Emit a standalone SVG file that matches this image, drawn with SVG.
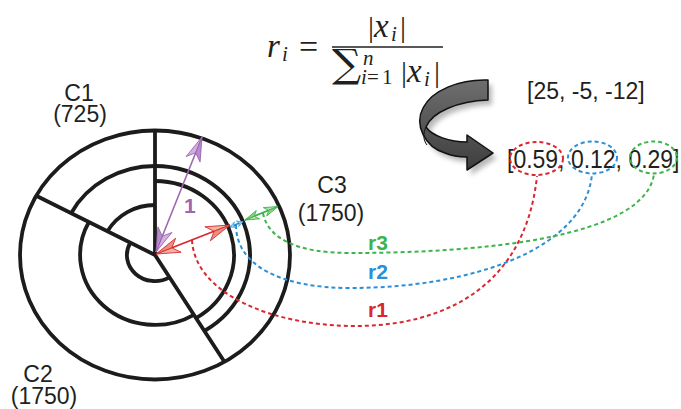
<svg xmlns="http://www.w3.org/2000/svg" width="681" height="409" viewBox="0 0 681 409">
<style>
.ring{fill:none;stroke:#1c1c1c;stroke-width:3.8}
.lbl{font-family:"Liberation Sans",Arial,sans-serif;font-size:23px;fill:#231f20}
.math{font-family:"Liberation Serif","Times New Roman",serif;fill:#231f20}
.it{font-style:italic}
.dash{fill:none;stroke-width:2;stroke-dasharray:4 3}
.rl{font-family:"Liberation Sans",Arial,sans-serif;font-weight:bold;font-size:21px}
.red{stroke:#d7282f}
.blue{stroke:#2a8fd6}
.green{stroke:#3cb44b}
</style>
<defs>
<linearGradient id="gArrow" x1="0" y1="0" x2="0" y2="1">
<stop offset="0" stop-color="#6e6e6e"/>
<stop offset="1" stop-color="#3e3e3e"/>
</linearGradient>
<filter id="shadow" x="-20%" y="-20%" width="150%" height="150%">
<feGaussianBlur stdDeviation="2.5"/>
</filter>
<marker id="mP" viewBox="-25 -9 27 18" refX="0" refY="0" markerWidth="27" markerHeight="18" markerUnits="userSpaceOnUse" orient="auto-start-reverse">
<path d="M0,0 L-24,-7.5 L-17,0 Z" fill="#d2b0e0" stroke="#9b5fb0" stroke-width="0.8"/>
<path d="M0,0 L-17,0 L-24,7.5 Z" fill="#b98ccc" stroke="#9b5fb0" stroke-width="0.8"/>
</marker>
<marker id="mR" viewBox="-25 -9 27 18" refX="0" refY="0" markerWidth="27" markerHeight="18" markerUnits="userSpaceOnUse" orient="auto-start-reverse">
<path d="M0,0 L-24,-7.5 L-17,0 Z" fill="#f3b2a2" stroke="#d7282f" stroke-width="0.8"/>
<path d="M0,0 L-17,0 L-24,7.5 Z" fill="#eb8f7c" stroke="#d7282f" stroke-width="0.8"/>
</marker>
<marker id="mG" viewBox="-16 -6 18 12" refX="0" refY="0" markerWidth="18" markerHeight="12" markerUnits="userSpaceOnUse" orient="auto-start-reverse">
<path d="M0,0 L-14,-4.5 L-10,0 Z" fill="#b5e2ad" stroke="#3cb44b" stroke-width="0.8"/>
<path d="M0,0 L-10,0 L-14,4.5 Z" fill="#8fd286" stroke="#3cb44b" stroke-width="0.8"/>
</marker>
<marker id="mB" viewBox="-8 -4 10 8" refX="0" refY="0" markerWidth="10" markerHeight="8" markerUnits="userSpaceOnUse" orient="auto-start-reverse">
<path d="M0,0 L-6,-3 L-4,0 L-6,3 Z" fill="#a6d0f0" stroke="#2a8fd6" stroke-width="0.6"/>
</marker>
</defs>

<g id="formula" class="math">
<text x="267" y="57" font-size="33" class="it">r</text>
<text x="282" y="61" font-size="21" class="it">i</text>
<text x="299" y="57.5" font-size="34">=</text>
<line x1="332" y1="47" x2="443" y2="47" stroke="#231f20" stroke-width="1.3"/>
<text x="368" y="37" font-size="30">|</text>
<text x="374" y="37" font-size="33" class="it">x</text>
<text x="391" y="41" font-size="21" class="it">i</text>
<text x="400" y="37" font-size="30">|</text>
<text transform="translate(332,77) scale(1.05,1)" x="0" y="0" font-size="39" font-family="DejaVu Serif, serif">∑</text>
<text x="363" y="65" font-size="21" class="it">n</text>
<text x="361" y="84" font-size="21" class="it">i</text>
<text x="367" y="84" font-size="21">=</text>
<text x="382" y="84" font-size="21">1</text>
<text x="401" y="82" font-size="30">|</text>
<text x="407" y="82" font-size="33" class="it">x</text>
<text x="424" y="86" font-size="21" class="it">i</text>
<text x="434" y="82" font-size="30">|</text>
</g>

<g id="curved-arrow">
<path d="M488,80 C460,79 432,90 423,108 C414,125 425,147 445,153 C452,156 460,157 467,157 L467,170 L493,153 L467,135 L467,142 C450,142 432,136 426,127 C432,112 458,101 488,100 Z" fill="#9a9a9a" opacity="0.7" filter="url(#shadow)" transform="translate(4,5)"/>
<path d="M488,80 C460,79 432,90 423,108 C414,125 425,147 445,153 C452,156 460,157 467,157 L467,170 L493,153 L467,135 L467,142 C450,142 432,136 426,127 C432,112 458,101 488,100 Z" fill="url(#gArrow)" stroke="#111" stroke-width="1.5" stroke-linejoin="round"/>
<path d="M426,127 C423,133 423,140 427,145" fill="none" stroke="#111" stroke-width="1"/>
</g>

<g id="vec-raw">
<text class="lbl" x="527" y="99">[25, -5, -12]</text>
</g>

<g id="vec-norm">
<text class="lbl" transform="translate(507,168) scale(1,1.15)" x="0" y="0">[0.59, 0.12, 0.29]</text>
<ellipse cx="536.5" cy="158.5" rx="26.5" ry="16.5" class="dash red"/>
<ellipse cx="592.5" cy="157.5" rx="24.5" ry="16" class="dash blue"/>
<ellipse cx="653.5" cy="157.5" rx="23.5" ry="16" class="dash green"/>
</g>

<g id="chart">
<ellipse cx="155" cy="255" rx="135" ry="124.5" class="ring"/>
<path class="ring" d="M71.1,213.2 A95,89 0 0 1 155,166 A95,89 0 0 1 204.4,331"/>
<path class="ring" d="M155,181 A79,74 0 0 1 196.1,318.2"/>
<path class="ring" d="M88.9,222 A75,70 0 0 0 193.9,314.8"/>
<path class="ring" d="M107.5,231.3 A54,50 0 0 1 155,205"/>
<path class="ring" d="M130.3,242.7 A28,26 0 0 0 169.5,277.3"/>
<path class="ring" d="M155,255 V130.5 M155,255 L36.2,195.8 M155,255 L224.4,361.8"/>
</g>

<g id="label-c1" class="lbl" text-anchor="middle">
<text x="79" y="101">C1</text>
<text x="80" y="122">(725)</text>
</g>
<g id="label-c2" class="lbl" text-anchor="middle">
<text x="38" y="382">C2</text>
<text x="44" y="404">(1750)</text>
</g>
<g id="label-c3" class="lbl" text-anchor="middle">
<text x="332" y="193">C3</text>
<text x="331" y="221">(1750)</text>
</g>

<g id="connectors">
<path d="M192,240 C195,295 275,326 355,326 C440,326 525,290 537,176" class="dash red"/>
<path d="M236,225 C236,265 280,288 350,288 C470,288 585,250 592,174" class="dash blue"/>
<path d="M263,213 C268,240 300,253 350,253 C480,253 645,238 654,174" class="dash green"/>
<line x1="156" y1="252" x2="202" y2="137" stroke="#a066b0" stroke-width="1.6" marker-start="url(#mP)" marker-end="url(#mP)"/>
<line x1="156" y1="254" x2="230" y2="225" stroke="#d7282f" stroke-width="1.8" marker-start="url(#mR)" marker-end="url(#mR)"/>
<line x1="230" y1="227" x2="243" y2="221.5" stroke="#2a8fd6" stroke-width="1.6" marker-start="url(#mB)" marker-end="url(#mB)"/>
<line x1="245" y1="220" x2="278" y2="206.5" stroke="#3cb44b" stroke-width="1.8" marker-start="url(#mG)" marker-end="url(#mG)"/>
<text x="184" y="213" class="rl" fill="#a066b0">1</text>
<text x="368" y="250" class="rl" fill="#3cb44b">r3</text>
<text x="368" y="279" class="rl" fill="#2a8fd6">r2</text>
<text x="368" y="317" class="rl" fill="#d7282f">r1</text>
</g>
</svg>
